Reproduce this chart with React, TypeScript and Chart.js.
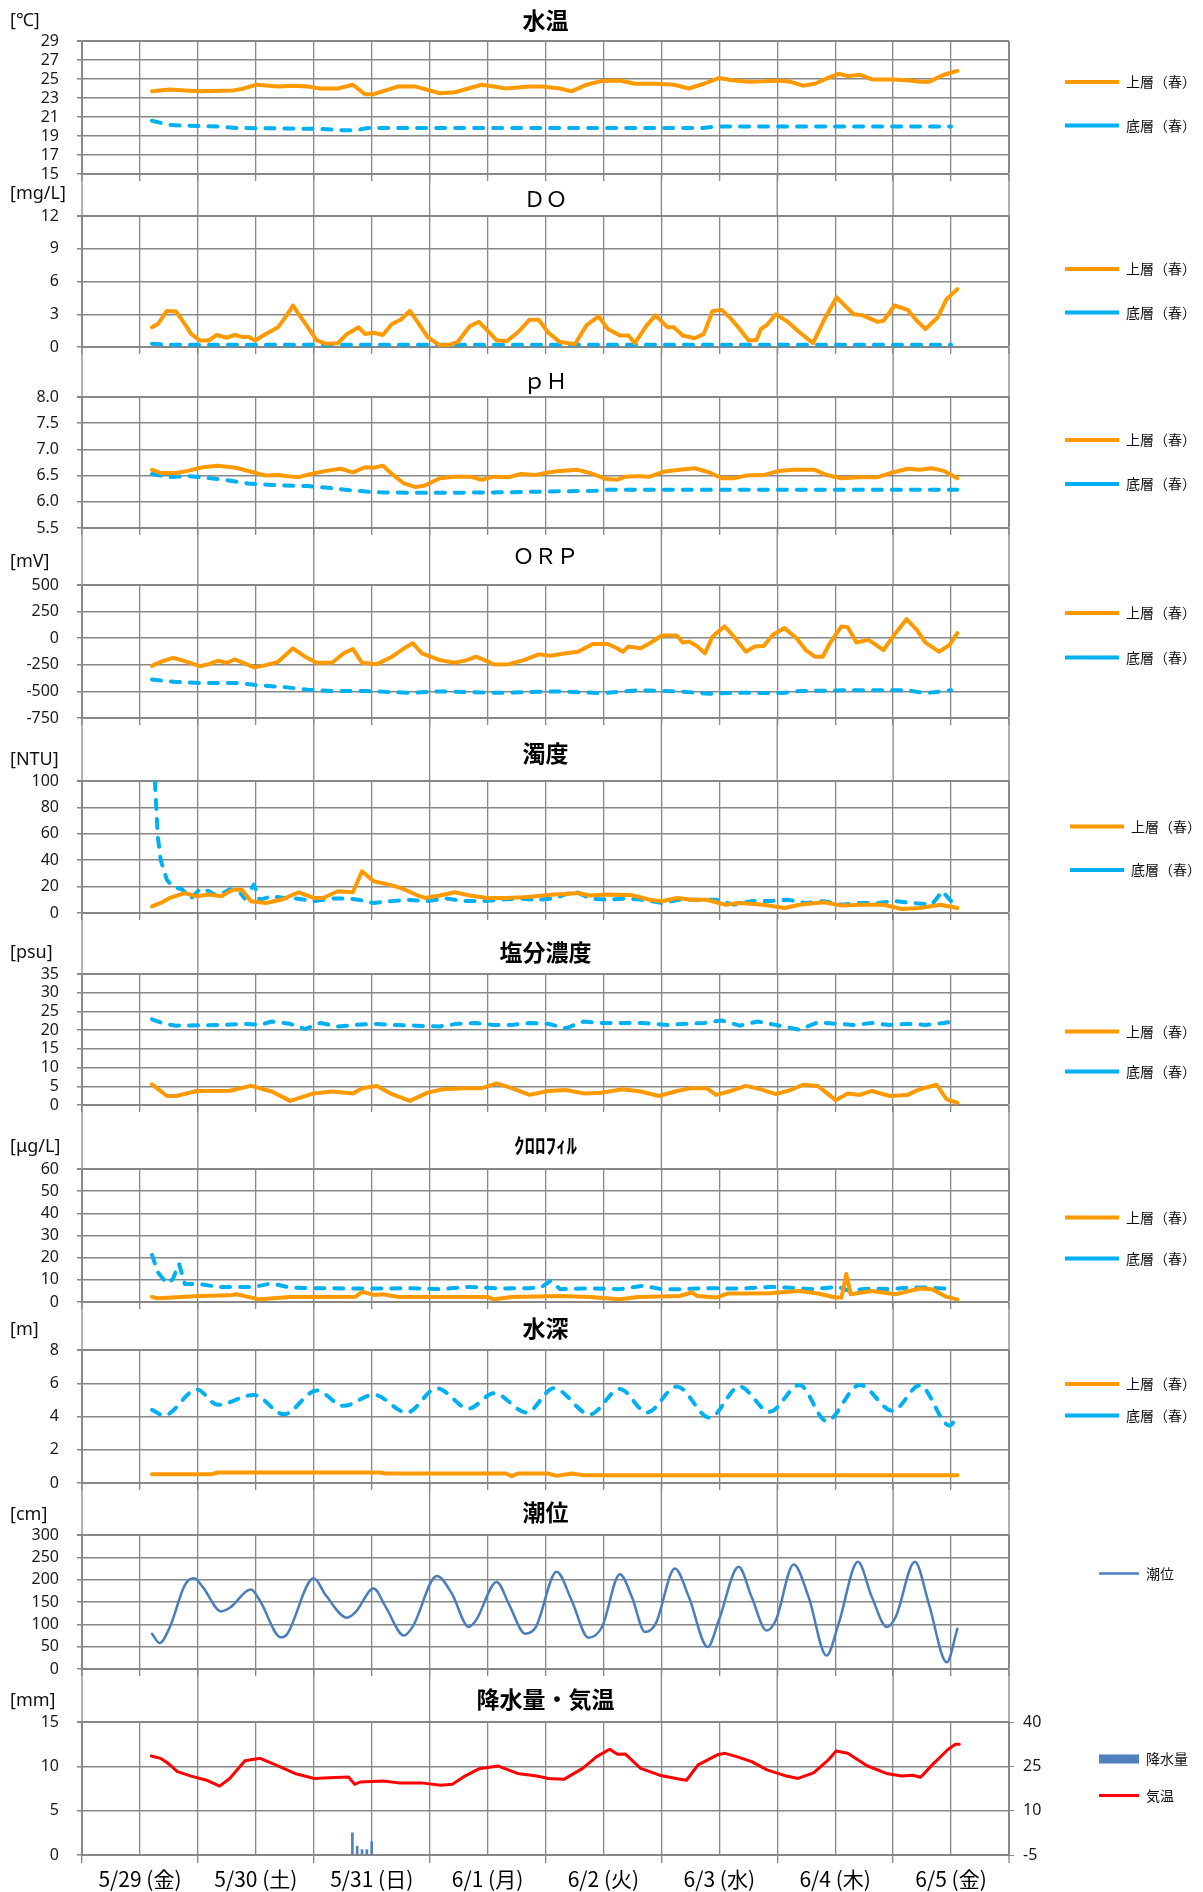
import React, { useEffect, useRef } from 'react';
import { Chart, registerables } from 'chart.js';

Chart.register(...registerables);

// ---------- time axis: hours since 5/29 0:00 ----------
const X_MIN = -12;
const X_MAX = 180;
const X_STEP = 12;
const dayLabels = ['5/29 (金)', '5/30 (土)', '5/31 (日)', '6/1 (月)', '6/2 (火)', '6/3 (水)', '6/4 (木)', '6/5 (金)'];

// ---------- 水温 ----------
const wtTopH = [2.5, 6.2, 9.3, 12.4, 19.3, 21.1, 24.2, 28.6, 31.7, 34.8, 37.3, 41.0, 44.1, 46.6, 48.4, 53.4, 57.1, 62.1, 65.2, 70.8, 73.3, 75.8, 80.7, 83.2, 87.0, 89.4, 92.5, 95.7, 99.4, 102.5, 106.8, 110.6, 113.7, 116.8, 119.9, 123.0, 126.1, 129.2, 132.3, 134.8, 137.3, 139.8, 142.9, 144.7, 146.6, 149.1, 151.6, 155.9, 159.6, 161.5, 163.4, 166.5, 169.3];
const wtTop = [23.7, 23.9, 23.8, 23.7, 23.8, 23.95, 24.4, 24.2, 24.3, 24.2, 24.0, 24.0, 24.4, 23.4, 23.4, 24.2, 24.2, 23.5, 23.6, 24.4, 24.2, 24.0, 24.2, 24.2, 24.0, 23.7, 24.4, 24.8, 24.85, 24.5, 24.5, 24.4, 24.0, 24.5, 25.1, 24.85, 24.7, 24.75, 24.85, 24.7, 24.3, 24.5, 25.2, 25.55, 25.3, 25.45, 24.95, 24.95, 24.85, 24.7, 24.7, 25.45, 25.85];
const wtBotH = [2.5, 6.2, 12.4, 16.1, 19.9, 37.3, 42.2, 44.7, 47.2, 116.8, 119.3, 168.0];
const wtBot = [20.6, 20.15, 20.05, 20.0, 19.85, 19.75, 19.6, 19.6, 19.85, 19.85, 20.0, 20.0];

// ---------- DO ----------
const doTopH = [2.5, 3.7, 5.6, 7.5, 9.3, 10.6, 12.4, 14.3, 15.9, 18.0, 19.6, 21.4, 22.4, 23.9, 25.5, 28.6, 30.4, 31.7, 32.9, 34.8, 36.6, 38.5, 41.0, 42.9, 45.3, 46.6, 48.4, 50.3, 52.2, 54.0, 55.9, 57.8, 59.6, 62.1, 64.0, 65.8, 68.3, 70.2, 72.0, 73.9, 76.0, 78.3, 80.7, 82.6, 84.5, 87.0, 90.1, 92.5, 95.0, 96.9, 99.4, 101.2, 102.5, 105.0, 106.8, 109.3, 110.6, 112.4, 114.9, 116.8, 118.6, 120.5, 122.4, 124.2, 126.1, 127.7, 128.6, 129.8, 131.7, 134.2, 136.6, 139.4, 141.6, 144.3, 147.8, 149.7, 152.8, 154.0, 156.3, 159.0, 160.9, 162.7, 165.2, 167.1, 169.3];
const doTop = [1.8, 2.1, 3.3, 3.25, 2.1, 1.2, 0.6, 0.6, 1.1, 0.85, 1.1, 0.9, 0.95, 0.6, 1.05, 1.8, 2.9, 3.8, 3.0, 1.8, 0.6, 0.3, 0.35, 1.2, 1.8, 1.2, 1.3, 1.1, 2.1, 2.5, 3.3, 2.1, 0.9, 0.15, 0.2, 0.45, 1.9, 2.3, 1.5, 0.6, 0.55, 1.35, 2.5, 2.5, 1.35, 0.45, 0.25, 2.0, 2.8, 1.65, 1.05, 1.05, 0.35, 2.0, 2.9, 1.8, 1.8, 1.05, 0.8, 1.2, 3.3, 3.4, 2.6, 1.65, 0.6, 0.65, 1.65, 2.0, 3.0, 2.3, 1.35, 0.35, 2.4, 4.55, 3.0, 2.9, 2.3, 2.4, 3.8, 3.4, 2.4, 1.65, 2.7, 4.4, 5.3];
const doBotH = [2.5, 6.0, 168.0];
const doBot = [0.3, 0.2, 0.2];

// ---------- pH ----------
const phTopH = [2.5, 4.3, 7.5, 9.9, 13.0, 16.1, 19.9, 23.6, 26.1, 28.6, 30.4, 32.9, 35.4, 38.5, 41.6, 44.1, 46.6, 48.4, 50.3, 52.2, 54.7, 57.1, 59.0, 62.1, 65.2, 68.3, 70.8, 73.3, 76.4, 78.9, 82.0, 84.5, 87.0, 90.7, 93.2, 96.3, 98.8, 100.6, 103.1, 105.6, 108.7, 111.8, 114.9, 118.0, 120.5, 123.0, 125.5, 129.2, 132.3, 135.4, 139.8, 142.2, 145.3, 149.1, 152.8, 155.9, 159.0, 161.5, 164.0, 166.5, 169.3];
const phTop = [6.61, 6.55, 6.55, 6.59, 6.66, 6.69, 6.65, 6.56, 6.50, 6.51, 6.49, 6.47, 6.53, 6.59, 6.63, 6.56, 6.66, 6.65, 6.69, 6.53, 6.35, 6.28, 6.31, 6.45, 6.48, 6.48, 6.42, 6.48, 6.47, 6.53, 6.51, 6.56, 6.59, 6.61, 6.55, 6.44, 6.42, 6.48, 6.49, 6.48, 6.58, 6.61, 6.64, 6.56, 6.45, 6.45, 6.50, 6.51, 6.59, 6.61, 6.61, 6.51, 6.45, 6.47, 6.47, 6.56, 6.63, 6.61, 6.64, 6.59, 6.45];
const phBotH = [2.5, 6.2, 9.9, 12.4, 17.4, 22.4, 27.3, 34.8, 39.8, 44.7, 49.7, 59.6, 74.5, 87.0, 94.4, 96.9, 169.3];
const phBot = [6.53, 6.47, 6.49, 6.47, 6.42, 6.35, 6.32, 6.30, 6.26, 6.21, 6.18, 6.17, 6.18, 6.20, 6.21, 6.23, 6.23];

// ---------- ORP ----------
const orpTopH = [2.5, 4.3, 6.8, 9.3, 12.4, 14.3, 16.1, 18.0, 19.6, 21.7, 23.6, 26.1, 28.6, 31.7, 34.2, 36.6, 39.8, 42.2, 44.1, 46.0, 49.1, 52.2, 54.7, 56.5, 58.4, 62.1, 65.2, 67.7, 69.6, 71.4, 73.3, 76.4, 79.5, 82.6, 85.1, 88.2, 90.7, 93.8, 96.9, 98.8, 100.0, 101.2, 103.7, 105.6, 108.1, 111.2, 112.4, 113.7, 115.5, 117.0, 118.6, 121.1, 123.0, 125.5, 127.3, 129.2, 131.1, 133.5, 136.0, 137.9, 139.8, 141.4, 142.9, 145.3, 146.6, 148.4, 150.9, 154.0, 156.5, 158.8, 160.9, 162.7, 165.5, 167.7, 169.3];
const orpTop = [-260, -222, -184, -215, -263, -244, -212, -231, -200, -237, -275, -253, -222, -95, -174, -231, -231, -142, -101, -231, -244, -174, -95, -47, -142, -206, -231, -206, -174, -206, -247, -244, -206, -152, -165, -142, -127, -54, -54, -95, -127, -79, -95, -47, 25, 25, -41, -32, -79, -142, 16, 111, 16, -127, -79, -73, 32, 95, 0, -111, -174, -174, -47, 111, 104, -41, -16, -111, 47, 180, 79, -41, -127, -63, 47];
const orpBotH = [2.5, 7.5, 12.4, 19.9, 24.8, 29.8, 34.8, 39.8, 47.2, 55.9, 62.1, 74.5, 87.0, 95.7, 103.1, 111.8, 118.0, 124.2, 132.9, 136.6, 145.3, 159.0, 162.7, 168.0];
const orpBot = [-389, -411, -421, -421, -443, -459, -484, -497, -497, -513, -500, -513, -500, -516, -490, -500, -522, -513, -516, -497, -490, -490, -516, -490];

// ---------- 濁度 ----------
const turTopH = [2.5, 4.3, 6.2, 9.3, 11.8, 14.3, 16.8, 19.3, 21.1, 23.0, 26.1, 29.2, 32.9, 36.0, 37.9, 41.0, 44.1, 46.0, 48.4, 51.6, 54.0, 57.1, 59.0, 62.1, 65.2, 68.3, 72.0, 75.8, 79.5, 82.0, 85.7, 88.2, 90.7, 93.2, 96.9, 101.9, 105.6, 108.1, 111.2, 114.3, 117.4, 121.1, 124.2, 129.2, 133.5, 136.6, 141.6, 145.3, 149.1, 154.0, 157.8, 161.5, 165.8, 169.3];
const turTop = [5, 7.6, 11.4, 15, 12.7, 14, 12.7, 17.7, 17.7, 8.9, 7.6, 10, 15.7, 11.4, 11.4, 16.5, 15.7, 31.6, 24, 21.5, 19, 14, 11.4, 13.2, 15.7, 13.2, 11.4, 11.4, 11.9, 12.7, 14, 14.4, 15.2, 13.2, 14, 13.4, 10, 8.9, 11.4, 10, 10, 6.3, 7.6, 6.3, 3.8, 6.3, 8.1, 5.6, 6.3, 6.3, 3, 3.8, 6.3, 3.8];
const turBotH = [3.1, 3.7, 4.3, 5.6, 6.8, 8.7, 10.6, 12.4, 14.3, 16.1, 18.6, 20.5, 21.7, 23.6, 24.8, 27.3, 30.4, 32.3, 36.0, 39.8, 42.9, 45.3, 48.4, 52.2, 55.3, 59.6, 63.4, 67.1, 70.8, 74.5, 78.3, 82.0, 85.7, 90.1, 93.2, 96.9, 100.6, 104.3, 108.1, 111.8, 115.5, 119.3, 123.0, 126.7, 130.4, 134.2, 137.9, 141.6, 145.3, 149.1, 152.8, 156.5, 160.2, 164.0, 166.2, 168.0];
const turBot = [100, 58, 40, 25, 20, 18, 11, 18, 16.5, 12.7, 18, 16.5, 11, 21.5, 10, 12.7, 11, 11, 9, 11, 11, 10, 7.6, 9, 10, 9, 11, 9, 9, 10, 11, 10, 11, 16.5, 11, 10, 11, 10, 7.6, 10, 10, 10, 6.3, 9, 9, 10, 7.6, 9, 6.3, 7.6, 7.6, 9, 7.6, 6.3, 16.5, 9];

// ---------- 塩分濃度 ----------
const salTopH = [2.5, 5.6, 7.5, 11.8, 18.6, 23.0, 27.3, 31.1, 36.0, 39.8, 44.1, 46.0, 49.1, 52.2, 55.9, 59.6, 62.7, 67.1, 70.8, 73.9, 77.0, 80.7, 84.5, 88.2, 91.9, 95.7, 100.0, 103.7, 107.5, 111.2, 114.3, 117.4, 119.3, 122.4, 125.5, 128.6, 131.7, 134.8, 137.3, 140.4, 144.1, 146.6, 149.1, 151.6, 155.3, 159.0, 161.5, 165.0, 167.1, 169.3];
const salTop = [5.5, 2.4, 2.4, 3.75, 3.8, 5.1, 3.6, 1.1, 3.1, 3.6, 3.1, 4.5, 5.1, 2.9, 1.1, 3.3, 4.2, 4.5, 4.5, 5.8, 4.5, 2.7, 3.75, 4.0, 3.1, 3.3, 4.2, 3.6, 2.4, 3.75, 4.5, 4.5, 2.7, 3.75, 5.1, 4.2, 2.9, 4.0, 5.4, 5.1, 1.3, 3.1, 2.7, 3.75, 2.4, 2.7, 4.2, 5.4, 1.5, 0.6];
const salBotH = [2.5, 5.0, 7.5, 12.4, 17.4, 21.1, 24.8, 27.3, 31.1, 34.2, 37.3, 41.0, 44.7, 48.4, 52.2, 57.1, 62.1, 65.8, 69.6, 73.3, 77.0, 80.7, 84.5, 88.2, 91.9, 95.7, 99.4, 104.3, 109.3, 113.0, 116.8, 120.5, 124.2, 128.0, 131.7, 136.6, 140.4, 144.1, 147.8, 151.6, 155.3, 159.0, 162.7, 166.5, 169.3];
const salBot = [22.9, 21.7, 21.2, 21.3, 21.4, 21.7, 21.4, 22.3, 21.7, 20.3, 21.9, 21.0, 21.4, 21.7, 21.4, 21.2, 21.0, 21.7, 21.9, 21.4, 21.4, 21.9, 21.7, 20.5, 22.3, 21.9, 21.9, 21.9, 21.4, 21.7, 21.9, 22.6, 21.2, 22.3, 21.4, 20.1, 22.1, 21.7, 21.4, 21.9, 21.4, 21.7, 21.4, 21.9, 22.6];

// ---------- クロロフィル ----------
const chlTopH = [2.5, 3.7, 12.4, 18.6, 19.9, 24.8, 31.1, 44.7, 46.0, 48.4, 50.3, 53.4, 72.0, 73.3, 77.0, 87.0, 93.2, 99.4, 103.1, 111.8, 114.3, 115.5, 119.3, 121.7, 130.4, 136.6, 140.4, 144.1, 145.3, 146.3, 147.2, 151.6, 156.5, 161.5, 164.0, 167.1, 169.3];
const chlTop = [2.3, 1.7, 2.7, 3.0, 3.5, 1.2, 2.3, 2.4, 4.6, 3.2, 3.5, 2.3, 2.3, 1.2, 2.3, 2.7, 2.3, 1.2, 2.3, 2.7, 4.3, 2.7, 2.0, 3.8, 4.0, 5.0, 3.8, 2.0, 2.0, 12.6, 3.5, 5.0, 3.5, 6.1, 5.8, 2.3, 1.2];
const chlBotH = [2.5, 3.7, 5.6, 6.8, 8.1, 9.3, 12.4, 16.1, 19.9, 23.6, 27.3, 31.1, 37.3, 43.5, 49.7, 55.9, 62.1, 68.3, 74.5, 80.7, 83.2, 85.1, 87.0, 93.2, 99.4, 104.3, 108.1, 111.8, 118.0, 124.2, 130.4, 134.2, 139.1, 144.7, 146.6, 151.6, 155.3, 159.0, 164.0, 168.0];
const chlBot = [21.3, 13.4, 8.4, 10.3, 17.2, 8.1, 8.1, 6.8, 6.8, 6.8, 8.4, 6.5, 6.2, 6.1, 6.1, 6.2, 5.8, 6.8, 6.1, 6.2, 6.8, 9.6, 5.8, 6.1, 5.8, 7.3, 5.8, 5.8, 6.2, 6.1, 6.8, 6.5, 5.8, 6.8, 5.3, 6.1, 5.8, 6.5, 6.5, 5.8];

// ---------- 水深 ----------
const depTopH = [2.5, 14.9, 16.1, 49.7, 50.9, 75.8, 77.0, 78.3, 84.5, 86.3, 89.4, 91.9, 169.3];
const depTop = [0.53, 0.53, 0.63, 0.63, 0.57, 0.57, 0.41, 0.57, 0.57, 0.43, 0.57, 0.47, 0.47];
const depBotH = [2.5, 5.0, 11.8, 16.1, 23.6, 29.8, 36.6, 42.2, 48.4, 55.3, 61.5, 68.1, 73.3, 80.1, 85.7, 93.2, 99.4, 105.0, 111.2, 118.0, 124.2, 130.4, 136.6, 142.2, 149.1, 155.9, 161.5, 167.7, 169.3];
const depBot = [4.4, 4.07, 5.62, 4.7, 5.3, 4.13, 5.56, 4.64, 5.31, 4.24, 5.7, 4.48, 5.4, 4.24, 5.7, 4.13, 5.66, 4.24, 5.8, 3.93, 5.8, 4.28, 5.9, 3.73, 5.9, 4.34, 5.87, 3.46, 4.03];

// ---------- 潮位 ----------
const tideH = [2.5, 4.1, 6.2, 9.3, 11.2, 13.0, 16.8, 18.6, 23.0, 24.8, 29.2, 30.4, 36.0, 38.5, 42.9, 44.7, 48.4, 50.9, 54.7, 56.5, 61.5, 64.6, 68.1, 69.6, 73.9, 76.4, 79.8, 82.0, 86.3, 89.4, 92.9, 95.7, 99.4, 101.9, 104.6, 106.8, 110.8, 113.7, 117.6, 119.9, 124.0, 126.7, 129.8, 131.7, 135.4, 138.5, 142.2, 144.7, 148.7, 151.6, 154.7, 156.5, 160.5, 163.4, 167.1, 169.3];
const tide = [79, 58, 94, 188, 203, 184, 129, 137, 178, 154, 71, 77, 203, 165, 115, 128, 180, 139, 75, 95, 208, 169, 94, 109, 195, 146, 79, 94, 218, 154, 70, 94, 212, 161, 83, 101, 225, 161, 49, 109, 229, 161, 86, 109, 234, 161, 30, 101, 240, 161, 94, 116, 240, 146, 15, 90];

// ---------- 降水量・気温 ----------
const rainH = [44, 45, 46, 47, 48];
const rain = [2.5, 1.0, 0.6, 0.6, 1.5];
const airH = [2.35, 4.25, 5.85, 7.75, 10.6, 13.8, 16.5, 18.6, 21.75, 24.9, 28.1, 32.1, 36.1, 39.2, 43.2, 44.5, 45.6, 50.4, 53.6, 58.3, 62.3, 64.7, 67.1, 70.3, 74.2, 78.2, 82.2, 84.6, 87.8, 91.7, 94.6, 97.3, 98.9, 100.5, 103.7, 107.6, 111.6, 113.2, 115.6, 119.6, 121.2, 123.6, 126.7, 129.9, 133.9, 136.3, 139.5, 142.6, 144.2, 146.6, 150.6, 154.6, 157.8, 160.1, 161.7, 164.1, 167.3, 168.9, 169.7];
const air = [28.5, 27.7, 26.0, 23.2, 21.7, 20.3, 18.3, 20.9, 26.9, 27.7, 25.5, 22.6, 20.9, 21.1, 21.4, 18.9, 19.7, 20.0, 19.4, 19.4, 18.6, 18.9, 21.5, 24.2, 25.1, 22.6, 21.7, 20.9, 20.6, 24.3, 28.3, 30.8, 29.1, 29.2, 24.3, 22.0, 20.7, 20.3, 25.5, 28.9, 29.4, 28.3, 26.6, 23.8, 21.7, 20.9, 22.8, 27.2, 30.2, 29.4, 25.2, 22.6, 21.7, 22.0, 21.3, 25.5, 30.6, 32.5, 32.5];

// ---------- styling ----------
const W = 1203;
const PLOT_LEFT = 82;
const PLOT_RIGHT = 1009;
const GRID = '#878787';
const ORANGE = '#ff9900';
const BLUE = '#00b0f0';
const TIDE = '#4a7ebb';
const RAIN = '#4f81bd';
const AIR = '#ff0000';
const CJK = "'Noto Sans CJK JP', sans-serif";
const SANS = "'Noto Sans', 'Noto Sans CJK JP', sans-serif";
const LEGEND_FONT = 14;
const TOP_LABEL = '上層（春）';
const BOT_LABEL = '底層（春）';

const xy = (xs: number[], ys: number[]) => xs.map((x, i) => ({ x, y: ys[i] }));

function lineSet(label: string, xs: number[], ys: number[], color: string, dashed: boolean, extra: any = {}) {
  return {
    type: 'line',
    label,
    data: xy(xs, ys),
    borderColor: color,
    backgroundColor: color,
    borderWidth: 4,
    borderDash: dashed ? [9, 10] : [],
    borderCapStyle: 'round',
    borderJoinStyle: 'round',
    pointRadius: 0,
    pointHoverRadius: 0,
    pointStyle: 'line',
    tension: 0,
    fill: false,
    ...extra,
  };
}

const pair = (th: number[], tv: number[], bh: number[], bv: number[], extra: any = {}) => [
  lineSet(TOP_LABEL, th, tv, ORANGE, false),
  lineSet(BOT_LABEL, bh, bv, BLUE, true, extra),
];

type Panel = {
  title: string;
  titleSize: number;
  titleWeight: string;
  unit: string;
  unitY: number;
  titleY: number;
  prevBottom: number;
  top: number;
  bottom: number;
  yMin: number;
  yMax: number;
  yStep: number;
  yFmt?: (v: number) => string;
  legendX: number;
  legendPad: number;
  legendOffset: number;
  boxW: number;
  gap: boolean;
  last?: boolean;
  datasets: any[];
};

const panels: Panel[] = [
  { title: '水温', titleSize: 23, titleWeight: 'bold', unit: '[℃]', unitY: 21, titleY: 20.5, prevBottom: 0, top: 41, bottom: 174, yMin: 15, yMax: 29, yStep: 2, legendX: 1065, legendPad: 29.5, legendOffset: 41, boxW: 54, gap: false, datasets: pair(wtTopH, wtTop, wtBotH, wtBot) },
  { title: 'ＤＯ', titleSize: 22, titleWeight: 'normal', unit: '[mg/L]', unitY: 194, titleY: 199, prevBottom: 174, top: 216, bottom: 347, yMin: 0, yMax: 12, yStep: 3, legendX: 1065, legendPad: 29.5, legendOffset: 53, boxW: 54, gap: true, datasets: pair(doTopH, doTop, doBotH, doBot) },
  { title: 'ｐＨ', titleSize: 22, titleWeight: 'normal', unit: '', unitY: 0, titleY: 381, prevBottom: 347, top: 397, bottom: 528, yMin: 5.5, yMax: 8.0, yStep: 0.5, yFmt: (v) => v.toFixed(1), legendX: 1065, legendPad: 30, legendOffset: 43, boxW: 54, gap: true, datasets: pair(phTopH, phTop, phBotH, phBot) },
  { title: 'ＯＲＰ', titleSize: 22, titleWeight: 'normal', unit: '[mV]', unitY: 562, titleY: 556, prevBottom: 528, top: 585, bottom: 718, yMin: -750, yMax: 500, yStep: 250, legendX: 1065, legendPad: 30.6, legendOffset: 28, boxW: 54, gap: true, datasets: pair(orpTopH, orpTop, orpBotH, orpBot) },
  { title: '濁度', titleSize: 23, titleWeight: 'bold', unit: '[NTU]', unitY: 760, titleY: 753, prevBottom: 718, top: 781, bottom: 913, yMin: 0, yMax: 100, yStep: 20, legendX: 1070, legendPad: 29.5, legendOffset: 45.5, boxW: 54, gap: true, datasets: pair(turTopH, turTop, turBotH, turBot) },
  { title: '塩分濃度', titleSize: 23, titleWeight: 'bold', unit: '[psu]', unitY: 953, titleY: 952, prevBottom: 913, top: 974, bottom: 1105, yMin: 0, yMax: 35, yStep: 5, legendX: 1065, legendPad: 26, legendOffset: 57.6, boxW: 54, gap: true, datasets: pair(salTopH, salTop, salBotH, salBot) },
  { title: 'ｸﾛﾛﾌｨﾙ', titleSize: 21, titleWeight: 'bold', unit: '[μg/L]', unitY: 1147, titleY: 1145, prevBottom: 1105, top: 1169, bottom: 1302, yMin: 0, yMax: 60, yStep: 10, legendX: 1065, legendPad: 27, legendOffset: 48.5, boxW: 54, gap: true, datasets: pair(chlTopH, chlTop, chlBotH, chlBot) },
  { title: '水深', titleSize: 23, titleWeight: 'bold', unit: '[m]', unitY: 1330, titleY: 1328, prevBottom: 1302, top: 1350, bottom: 1483, yMin: 0, yMax: 8, yStep: 2, legendX: 1065, legendPad: 17.4, legendOffset: 34, boxW: 54, gap: true, datasets: pair(depTopH, depTop, depBotH, depBot, { cubicInterpolationMode: 'monotone' }) },
  { title: '潮位', titleSize: 23, titleWeight: 'bold', unit: '[cm]', unitY: 1515, titleY: 1512, prevBottom: 1483, top: 1535, bottom: 1669, yMin: 0, yMax: 300, yStep: 50, legendX: 1099, legendPad: 20, legendOffset: 38.4, boxW: 40, gap: true, datasets: [lineSet('潮位', tideH, tide, TIDE, false, { borderWidth: 2.5, cubicInterpolationMode: 'monotone' })] },
  {
    title: '降水量・気温', titleSize: 23, titleWeight: 'bold', unit: '[mm]', unitY: 1701, titleY: 1699, prevBottom: 1669, top: 1722, bottom: 1855, yMin: 0, yMax: 15, yStep: 5, legendX: 1099, legendPad: 22.5, legendOffset: 37, boxW: 40, gap: true, last: true,
    datasets: [
      { type: 'bar', label: '降水量', data: xy(rainH, rain), backgroundColor: RAIN, borderWidth: 0, barThickness: 2, pointStyle: 'rect', yAxisID: 'y' },
      lineSet('気温', airH, air, AIR, false, { borderWidth: 3, yAxisID: 'y2' }),
    ],
  },
];

const gapLines = {
  id: 'gapLines',
  beforeDraw(chart: any, _args: any, opts: any) {
    if (!opts || !opts.enabled) return;
    const { ctx, chartArea, scales } = chart;
    const x = scales.x;
    const mid = (chartArea.left + chartArea.right) / 2;
    ctx.save();
    ctx.strokeStyle = GRID;
    ctx.lineWidth = 1.3;
    x.ticks.forEach((t: any) => {
      const v = t.value;
      if (((v % 24) + 24) % 24 !== 12) return;
      const px = x.getPixelForValue(v);
      if (Math.abs(px - mid) < 60) return;
      ctx.beginPath();
      ctx.moveTo(px, 0);
      ctx.lineTo(px, chartArea.top);
      ctx.stroke();
    });
    ctx.restore();
  },
};

const unitLabel = {
  id: 'unitLabel',
  afterDraw(chart: any, _args: any, opts: any) {
    if (!opts || !opts.text) return;
    const { ctx } = chart;
    ctx.save();
    ctx.font = `18px ${SANS}`;
    ctx.fillStyle = '#111';
    ctx.textBaseline = 'middle';
    ctx.textAlign = 'left';
    ctx.fillText(opts.text, 10, opts.y);
    ctx.restore();
  },
};

let measureCtx: CanvasRenderingContext2D | null = null;
function textWidth(text: string, font: string) {
  if (!measureCtx) measureCtx = document.createElement('canvas').getContext('2d');
  if (!measureCtx) return text.length * LEGEND_FONT;
  measureCtx.font = font;
  return measureCtx.measureText(text).width;
}

function canvasGeom(p: Panel) {
  const xAxisH = p.last ? 36 : 8;
  const top = p.prevBottom;
  const height = Math.round(p.bottom - top + xAxisH);
  return { top, height, xAxisH };
}

function fixVertical(width: number) {
  return (s: any) => {
    s.width = width;
    s.paddingTop = 0;
    s.paddingBottom = 0;
  };
}

function buildConfig(p: Panel) {
  const { top: canvasTop, xAxisH } = canvasGeom(p);
  const half = p.titleSize * 0.6;
  const pt = p.titleY - canvasTop - half;
  const pb = p.top - p.titleY - half;
  const rightW = p.legendX - PLOT_RIGHT - p.legendPad;
  const available = W - PLOT_RIGHT - rightW;
  const maxText = Math.max(...p.datasets.map((d) => textWidth(d.label, `normal ${LEGEND_FONT}px ${CJK}`)));
  const natural = p.legendPad + p.boxW + LEGEND_FONT / 2 + maxText + 10;
  const legendW = Math.min(natural - 0.5, available);
  const padRight = Math.max(0, available - legendW);
  const legTitleH = p.top + p.legendOffset - canvasTop - p.legendPad - LEGEND_FONT / 2;

  const scales: any = {
    x: {
      type: 'linear',
      min: X_MIN,
      max: X_MAX,
      offset: false,
      ticks: {
        stepSize: X_STEP,
        display: !!p.last,
        autoSkip: false,
        maxRotation: 0,
        padding: 3,
        color: '#000',
        font: { size: 21, family: CJK },
        callback: (v: number) => {
          const d = v / 24;
          return Number.isInteger(d) && d >= 0 && d < dayLabels.length ? dayLabels[d] : '';
        },
      },
      grid: {
        offset: false,
        color: GRID,
        lineWidth: (c: any) => (c.tick && c.tick.value === X_MAX ? 2 : 1.3),
        tickLength: p.last ? 8 : 7,
        tickWidth: 1.3,
        tickColor: (c: any) => (p.last && c.tick && ((c.tick.value % 24) + 24) % 24 === 0 ? 'rgba(0,0,0,0)' : GRID),
      },
      border: { color: GRID, width: 2 },
      afterFit: (s: any) => {
        s.height = xAxisH;
        s.paddingLeft = 0;
        s.paddingRight = 0;
      },
    },
    y: {
      type: 'linear',
      position: 'left',
      min: p.yMin,
      max: p.yMax,
      ticks: {
        stepSize: p.yStep,
        autoSkip: false,
        padding: 18,
        color: '#1a1a1a',
        font: { size: 16, family: SANS },
        callback: (v: number) => (p.yFmt ? p.yFmt(v) : String(v)),
      },
      grid: {
        color: GRID,
        lineWidth: (c: any) => (c.tick && c.tick.value === p.yMax ? 2 : 1.5),
        tickLength: 5,
        tickColor: GRID,
      },
      border: { color: GRID, width: 2 },
      afterFit: fixVertical(PLOT_LEFT),
    },
  };

  if (p.last) {
    scales.y2 = {
      type: 'linear',
      position: 'right',
      min: -5,
      max: 40,
      ticks: { stepSize: 15, autoSkip: false, padding: 9, color: '#1a1a1a', font: { size: 16, family: SANS } },
      grid: { drawOnChartArea: false, tickLength: 5, color: GRID },
      border: { color: GRID, width: 2 },
      afterFit: fixVertical(rightW),
    };
  } else {
    scales.yPad = {
      axis: 'y',
      type: 'linear',
      position: 'right',
      display: true,
      grid: { display: false, drawTicks: false },
      ticks: { display: false },
      border: { display: false },
      afterFit: fixVertical(rightW),
    };
  }

  return {
    type: 'line',
    data: { datasets: p.datasets },
    options: {
      responsive: false,
      animation: false,
      events: [],
      layout: { padding: { left: 0, top: 0, bottom: 0, right: padRight } },
      scales,
      plugins: {
        title: {
          display: true,
          text: p.title,
          fullSize: false,
          color: '#000',
          font: { size: p.titleSize, weight: p.titleWeight, family: CJK, lineHeight: 1.2 },
          padding: { top: pt, bottom: pb },
        },
        legend: {
          display: true,
          position: 'right',
          align: 'start',
          fullSize: true,
          maxWidth: legendW,
          title: {
            display: legTitleH > 1,
            text: '',
            font: { size: 1, lineHeight: 1 },
            padding: { top: Math.max(0, legTitleH - 1), bottom: 0 },
          },
          labels: {
            usePointStyle: true,
            pointStyleWidth: p.boxW,
            boxHeight: 9,
            padding: p.legendPad,
            color: '#111',
            font: { size: LEGEND_FONT, family: CJK },
          },
        },
        tooltip: { enabled: false },
        gapLines: { enabled: p.gap },
        unitLabel: { text: p.unit, y: p.unitY - canvasTop },
      },
    },
    plugins: [gapLines, unitLabel],
  };
}

function PanelChart({ p }: { p: Panel }) {
  const ref = useRef<HTMLCanvasElement | null>(null);
  const g = canvasGeom(p);
  useEffect(() => {
    if (!ref.current) return;
    const chart = new Chart(ref.current, buildConfig(p) as any);
    return () => chart.destroy();
  }, [p]);
  return (
    <canvas
      ref={ref}
      width={W}
      height={g.height}
      style={{ position: 'absolute', left: 0, top: g.top, width: W, height: g.height }}
    />
  );
}

export default function App() {
  return (
    <div style={{ position: 'absolute', left: 0, top: 0, width: W, height: 1892, overflow: 'hidden', background: '#fff' }}>
      {panels.map((p, i) => (
        <PanelChart key={i} p={p} />
      ))}
    </div>
  );
}
